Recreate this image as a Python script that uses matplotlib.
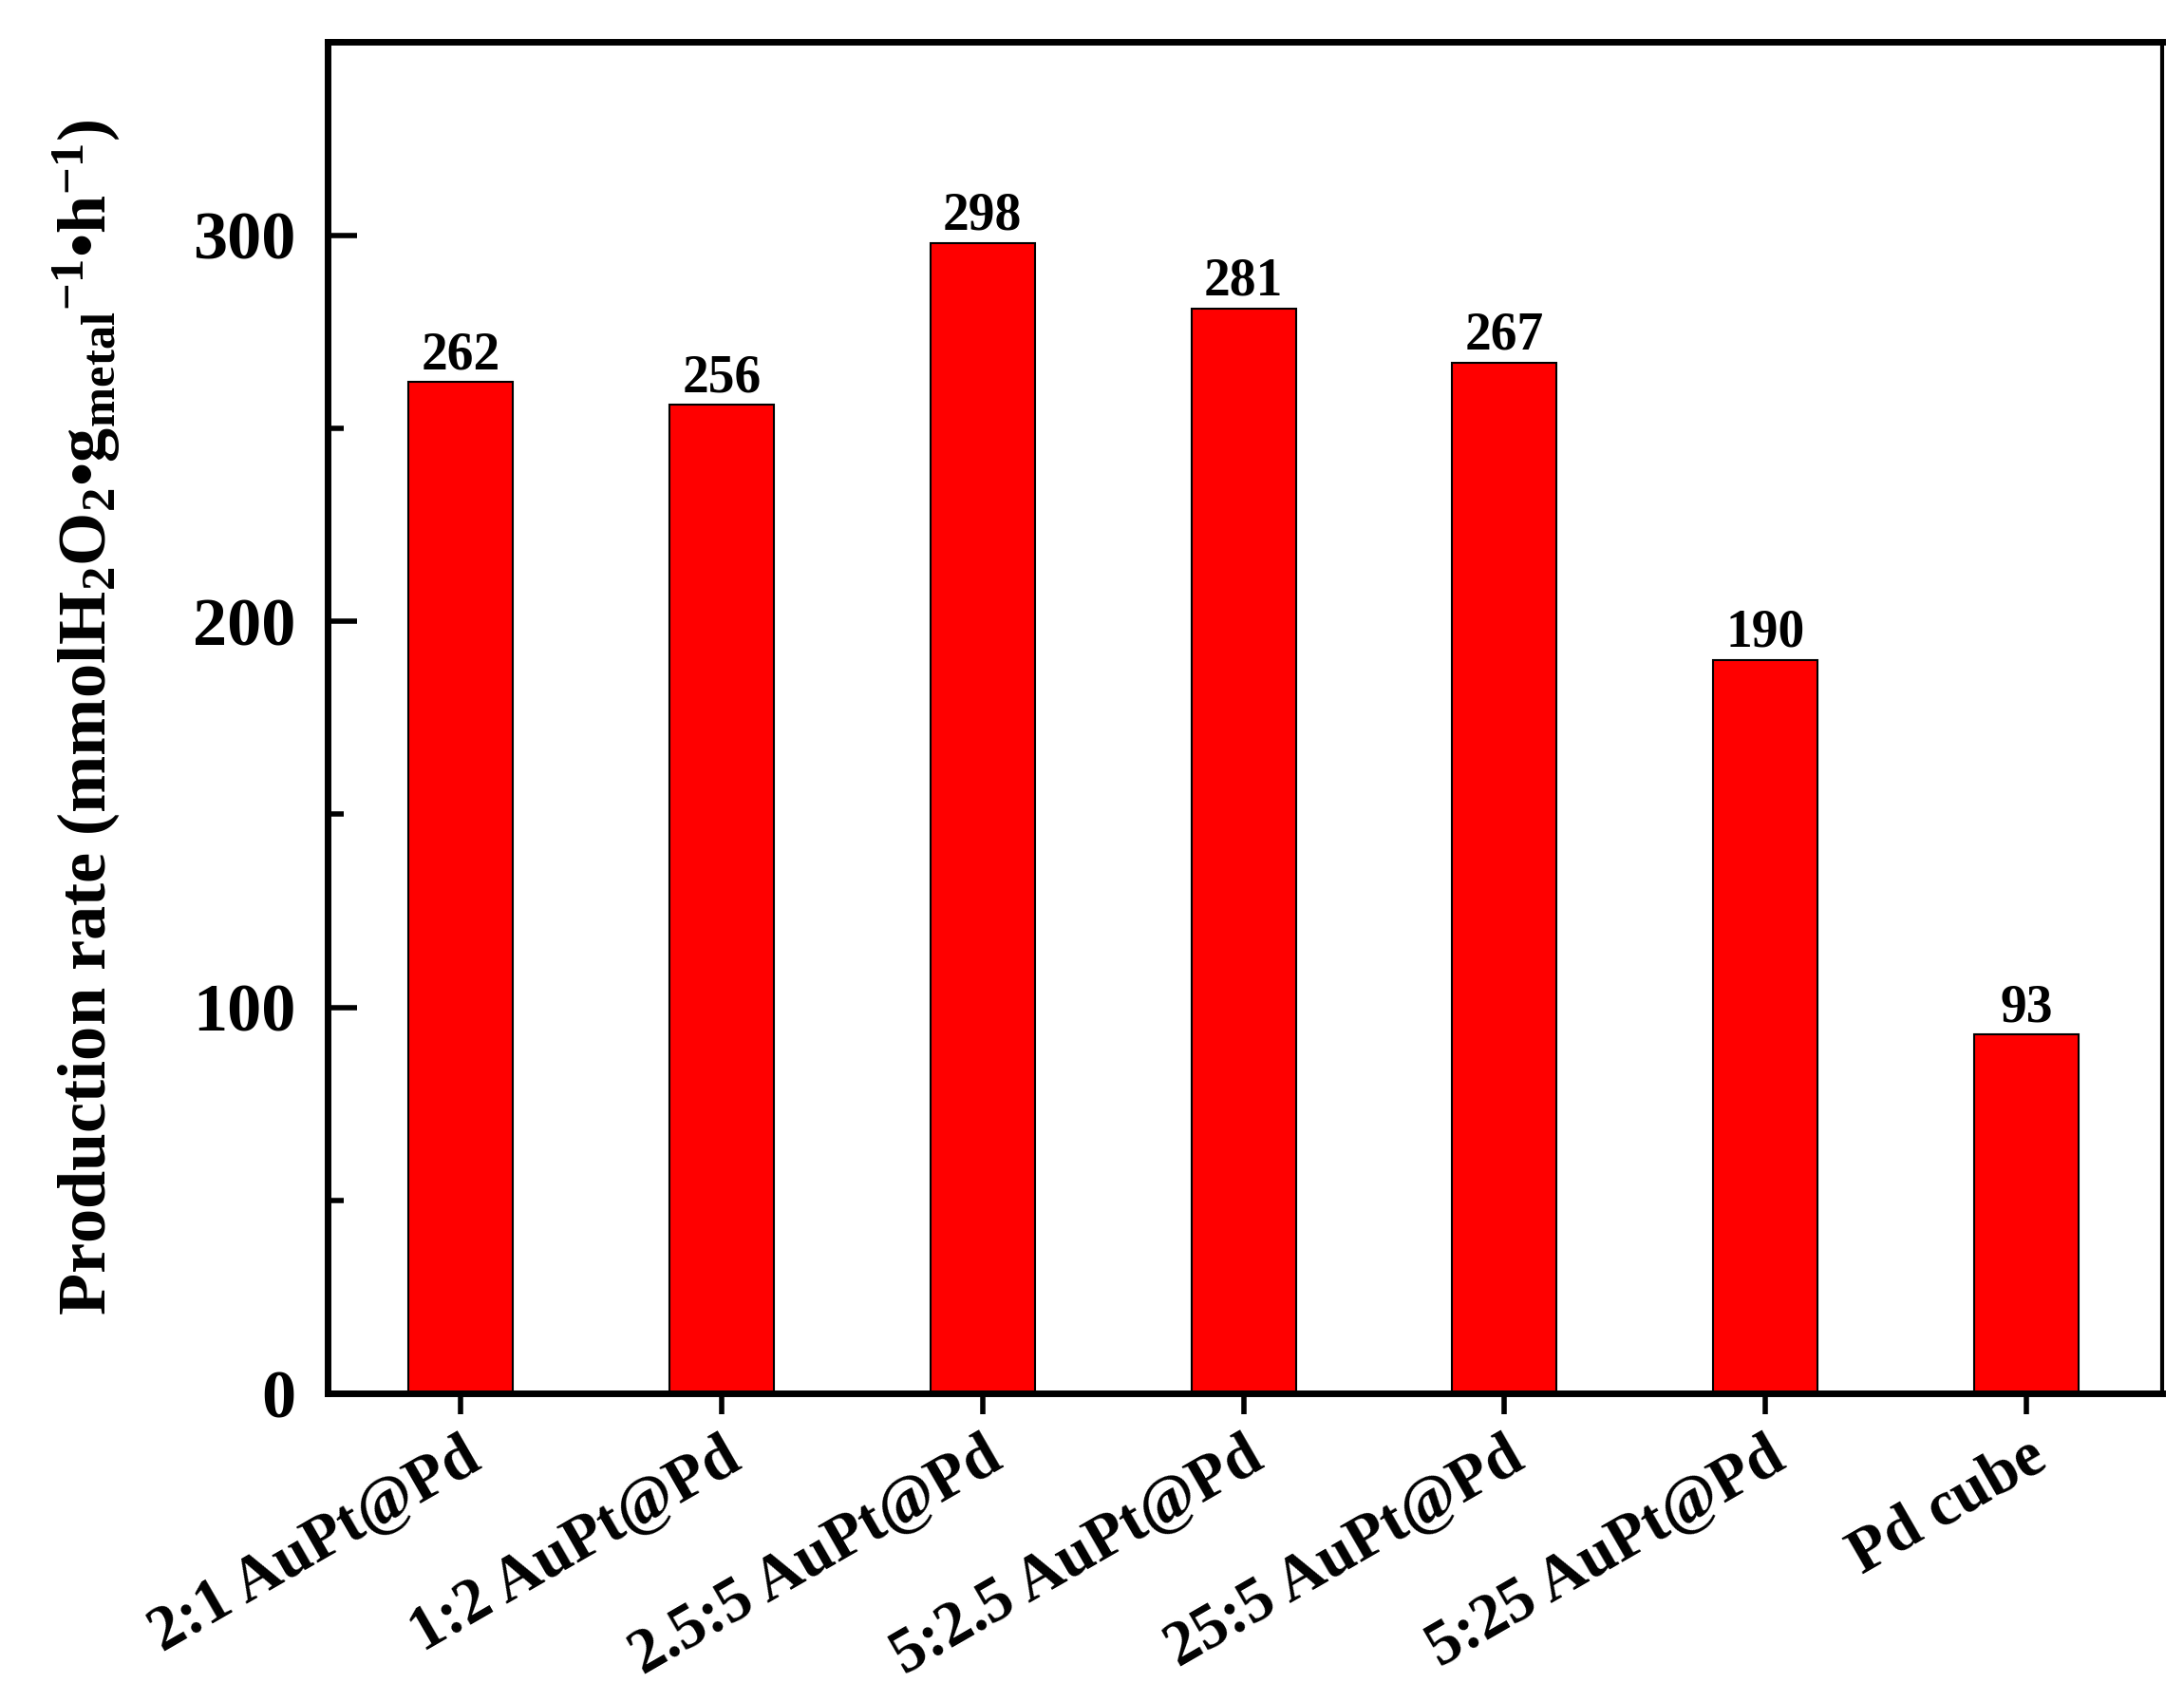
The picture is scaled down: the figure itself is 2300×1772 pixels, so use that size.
import numpy as np
import matplotlib.pyplot as plt
from matplotlib.ticker import MultipleLocator

plt.rcParams['font.family'] = ['Liberation Serif', 'DejaVu Serif']
plt.rcParams['font.weight'] = 'bold'
plt.rcParams['mathtext.fontset'] = 'custom'
plt.rcParams['mathtext.rm'] = 'Liberation Serif:bold'
plt.rcParams['mathtext.bf'] = 'Liberation Serif:bold'
plt.rcParams['mathtext.it'] = 'Liberation Serif:bold'

# Data
samples = ['2:1 AuPt@Pd', '1:2 AuPt@Pd', '2.5:5 AuPt@Pd', '5:2.5 AuPt@Pd',
           '25:5 AuPt@Pd', '5:25 AuPt@Pd', 'Pd cube']
rates = [262, 256, 298, 281, 267, 190, 93]

fig = plt.figure(figsize=(23, 17.72), dpi=100)
ax = fig.add_axes([0.150, 0.172, 0.840, 0.803])

x = np.arange(len(samples))
bars = ax.bar(x, rates, width=0.4, color='#ff0000', edgecolor='black', linewidth=1.5)

# value labels on top of bars
for xi, v in zip(x, rates):
    ax.text(xi, v + 0.5, str(v), ha='center', va='bottom', fontsize=40, fontweight='bold')

ax.set_xlim(-0.51, 6.52)
ax.set_ylim(0, 350)
ax.set_xticks(x)
ax.set_xticklabels(samples, rotation=30, ha='right', va='top',
                   rotation_mode='anchor', fontsize=48, fontweight='bold')
ax.set_yticks([0, 100, 200, 300])
ax.yaxis.set_minor_locator(MultipleLocator(50))
ax.tick_params(axis='y', which='major', direction='in', length=22, width=4,
               labelsize=52, pad=24)
ax.tick_params(axis='y', which='minor', direction='in', length=12, width=4)
ax.tick_params(axis='x', which='major', direction='out', length=16, width=4, pad=10)

for side in ['left', 'bottom', 'top']:
    ax.spines[side].set_linewidth(5)
ax.spines['right'].set_linewidth(3)

ax.set_ylabel('Production rate (mmolH$_2$O$_2$•g$_{metal}$$^{-1}$•h$^{-1}$)',
              fontsize=52, fontweight='bold', labelpad=54)

plt.savefig('out.png', dpi=100)
